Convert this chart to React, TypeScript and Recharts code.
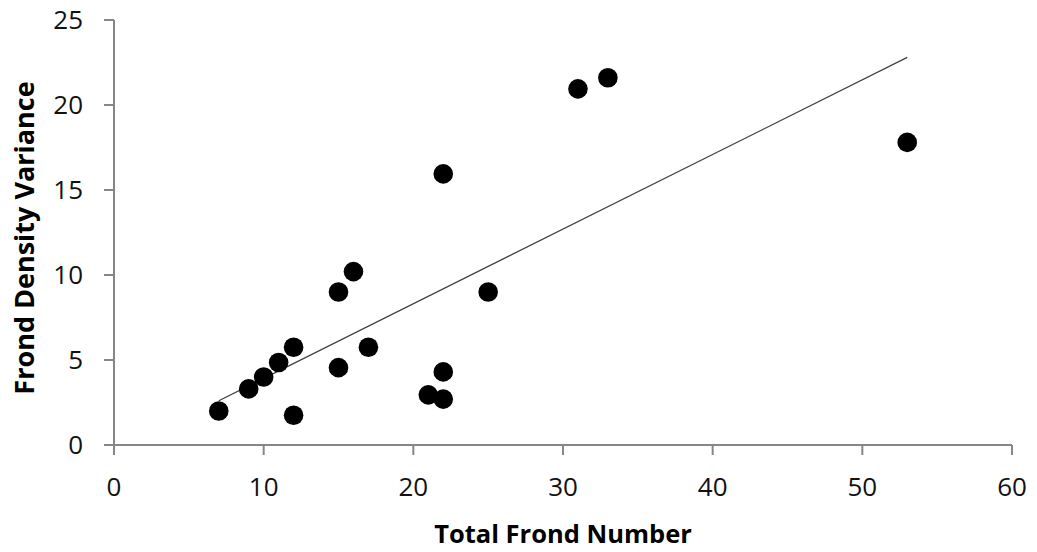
import React from "react";
import {
  ScatterChart,
  Scatter,
  XAxis,
  YAxis,
  Label,
} from "recharts";

// total frond number vs frond density variance
const fronds = [7, 9, 10, 11, 12, 12, 15, 15, 16, 17, 21, 22, 22, 22, 25, 31, 33, 53];
const variance = [2.0, 3.3, 4.0, 4.85, 5.75, 1.75, 9.0, 4.55, 10.2, 5.75, 2.95, 4.3, 2.7, 15.95, 9.0, 20.95, 21.6, 17.8];

// linear trendline end points
const trendX = [7, 53];
const trendY = [2.6, 22.8];

const xTicks = [0, 10, 20, 30, 40, 50, 60];
const yTicks = [0, 5, 10, 15, 20, 25];

const points = fronds.map((x, i) => ({ x, y: variance[i] }));
const trend = trendX.map((x, i) => ({ x, y: trendY[i] }));

const FONT = "'Open Sans', sans-serif";
const AXIS = "#868686";

const Dot = (props: any) => (
  <circle cx={props.cx} cy={props.cy} r={9.8} fill="#000" />
);

const YTitle = () => (
  <text
    x={34}
    y={238}
    transform="rotate(-90, 34, 238)"
    textAnchor="middle"
    fontFamily={FONT}
    fontWeight={700}
    fontSize={27}
    fill="#000"
  >
    Frond Density Variance
  </text>
);

export default function App() {
  return (
    <div style={{ position: "absolute", left: 0, top: 0 }}>
      <ScatterChart
        width={1037}
        height={552}
        margin={{ top: 20, right: 25, bottom: 0, left: 0 }}
      >
        <XAxis
          dataKey="x"
          type="number"
          domain={[0, 60]}
          ticks={xTicks}
          height={107}
          axisLine={{ stroke: AXIS, strokeWidth: 2 }}
          tickLine={{ stroke: AXIS, strokeWidth: 2 }}
          tickSize={10}
          tickMargin={23}
          tick={{ fill: "#111", fontSize: 26, fontFamily: FONT }}
        >
          <Label
            value="Total Frond Number"
            position="insideBottom"
            offset={9}
            fill="#000"
            fontSize={25.5}
            fontWeight={700}
            fontFamily={FONT}
          />
        </XAxis>
        <YAxis
          dataKey="y"
          type="number"
          domain={[0, 25]}
          ticks={yTicks}
          width={114}
          axisLine={{ stroke: AXIS, strokeWidth: 2 }}
          tickLine={{ stroke: AXIS, strokeWidth: 2 }}
          tickSize={10}
          tickMargin={21}
          tick={{ fill: "#111", fontSize: 26, fontFamily: FONT }}
        >
          <Label content={<YTitle />} />
        </YAxis>
        <Scatter
          data={trend}
          line={{ stroke: "#404040", strokeWidth: 1.2 }}
          shape={() => <g />}
          isAnimationActive={false}
        />
        <Scatter data={points} shape={<Dot />} isAnimationActive={false} />
      </ScatterChart>
    </div>
  );
}
